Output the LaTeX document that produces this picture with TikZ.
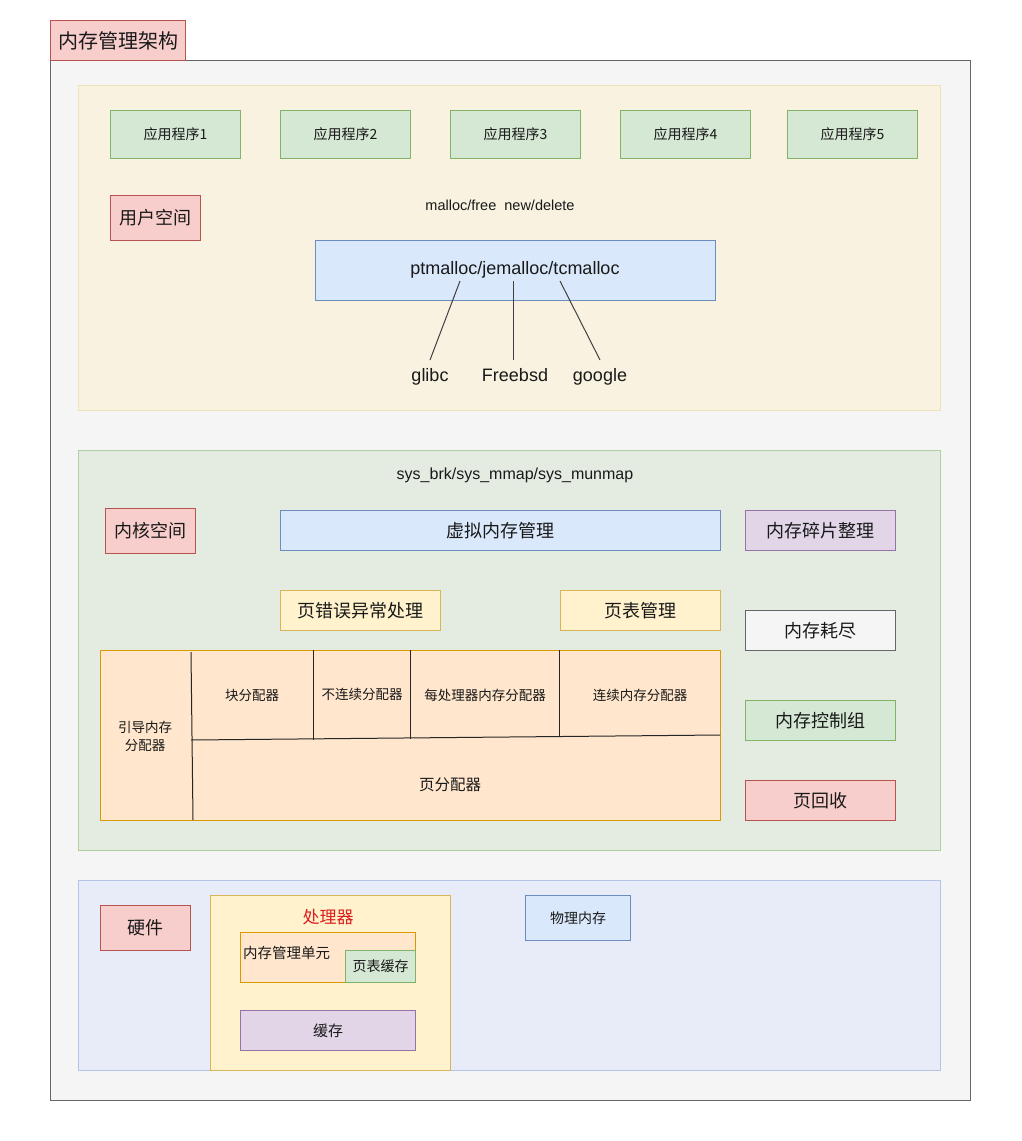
\documentclass[tikz,border=0pt]{standalone}
\usepackage{fontspec}
\setmainfont{Liberation Sans}
\newfontfamily\cjk{Noto Sans CJK SC}
\definecolor{pinkF}{RGB}{248,206,204}\definecolor{pinkD}{RGB}{184,84,80}
\definecolor{greenF}{RGB}{213,232,212}\definecolor{greenD}{RGB}{130,179,102}
\definecolor{blueF}{RGB}{218,232,252}\definecolor{blueD}{RGB}{108,142,191}
\definecolor{purpleF}{RGB}{225,213,231}\definecolor{purpleD}{RGB}{150,115,166}
\definecolor{yellowF}{RGB}{255,242,204}\definecolor{yellowD}{RGB}{214,182,86}
\definecolor{orangeF}{RGB}{255,230,204}\definecolor{orangeD}{RGB}{215,155,0}
\definecolor{grayF}{RGB}{245,245,245}\definecolor{grayD}{RGB}{102,102,102}
\definecolor{userF}{RGB}{249,242,225}\definecolor{userD}{RGB}{240,224,188}
\definecolor{kernF}{RGB}{228,236,226}\definecolor{kernD}{RGB}{176,206,160}
\definecolor{hwF}{RGB}{232,236,248}\definecolor{hwD}{RGB}{180,196,230}
\definecolor{txt}{RGB}{25,25,25}
\newcommand{\fs}[1]{\fontsize{#1}{#1}\selectfont}
\tikzset{
  box/.style={draw, rectangle, inner sep=0pt, line width=1pt, anchor=north west, text=txt, align=center},
  pinkbox/.style={box, fill=pinkF, draw=pinkD},
  greenbox/.style={box, fill=greenF, draw=greenD},
  bluebox/.style={box, fill=blueF, draw=blueD},
  purplebox/.style={box, fill=purpleF, draw=purpleD},
  yellowbox/.style={box, fill=yellowF, draw=yellowD},
  orangebox/.style={box, fill=orangeF, draw=orangeD},
  graybox/.style={box, fill=grayF, draw=grayD},
  lbl/.style={inner sep=0pt, text=txt, align=center},
  divline/.style={draw=black!85, line width=1pt},
  link/.style={draw=black!75, line width=1pt},
}
\begin{document}
\begin{tikzpicture}[x=1pt,y=-1pt]
\useasboundingbox (0,0) rectangle (1022,1141);
\fill[white] (0,0) rectangle (1022,1141);
% outer
\node[graybox, minimum width=920pt, minimum height=1040pt] (outer) at (50,60) {};
\node[pinkbox, minimum width=135pt, minimum height=40pt] (title) at (50,20) {\cjk\fs{20}内存管理架构};
% user space
\node[box, fill=userF, draw=userD, minimum width=862pt, minimum height=325pt] (user) at (78,85) {};
\node[greenbox, minimum width=130pt, minimum height=48pt] (app1) at (110,110) {\cjk\fs{14}应用程序1};
\node[greenbox, minimum width=130pt, minimum height=48pt] (app2) at (280,110) {\cjk\fs{14}应用程序2};
\node[greenbox, minimum width=130pt, minimum height=48pt] (app3) at (450,110) {\cjk\fs{14}应用程序3};
\node[greenbox, minimum width=130pt, minimum height=48pt] (app4) at (620,110) {\cjk\fs{14}应用程序4};
\node[greenbox, minimum width=130pt, minimum height=48pt] (app5) at (787,110) {\cjk\fs{14}应用程序5};
\node[pinkbox, minimum width=90pt, minimum height=45pt] (us) at (110,195) {\cjk\fs{18}用户空间};
\node[lbl] (mf) at (500,205) {\fs{14.5}malloc/free\ \ new/delete};
\node[bluebox, minimum width=400pt, minimum height=60pt] (ptm) at (315,240) {};
\node[lbl] (ptmt) at (515,270) {\fs{18}ptmalloc/jemalloc/tcmalloc};
\node[lbl, anchor=base] (glibc) at (430,381) {\fs{18}glibc};
\node[lbl, anchor=base] (fbsd) at (515,381) {\fs{18}Freebsd};
\node[lbl, anchor=base] (goog) at (600,381) {\fs{18}google};
\coordinate (la) at (460,281);
\coordinate (lb) at (513,281);
\coordinate (lc) at (560,281);
\coordinate (ea) at (430,360);
\coordinate (eb) at (513,360);
\coordinate (ec) at (600,360);
\draw[link] (la) -- (ea);
\draw[link] (lb) -- (eb);
\draw[link] (lc) -- (ec);
% kernel space
\node[box, fill=kernF, draw=kernD, minimum width=862pt, minimum height=400pt] (kern) at (78,450) {};
\node[lbl] (sys) at (515,475) {\fs{16}sys\_brk/sys\_mmap/sys\_munmap};
\node[pinkbox, minimum width=90pt, minimum height=45pt] (ks) at (105,508) {\cjk\fs{18}内核空间};
\node[bluebox, minimum width=440pt, minimum height=40pt] (vmm) at (280,510) {\cjk\fs{18}虚拟内存管理};
\node[purplebox, minimum width=150pt, minimum height=40pt] (frag) at (745,510) {\cjk\fs{18}内存碎片整理};
\node[yellowbox, minimum width=160pt, minimum height=40pt] (pf) at (280,590) {\cjk\fs{18}页错误异常处理};
\node[yellowbox, minimum width=160pt, minimum height=40pt] (pt) at (560,590) {\cjk\fs{18}页表管理};
\node[graybox, minimum width=150pt, minimum height=40pt] (oom) at (745,610) {\cjk\fs{18}内存耗尽};
\node[greenbox, minimum width=150pt, minimum height=40pt] (cg) at (745,700) {\cjk\fs{18}内存控制组};
\node[pinkbox, minimum width=150pt, minimum height=40pt] (rec) at (745,780) {\cjk\fs{18}页回收};
\node[orangebox, minimum width=620pt, minimum height=170pt] (alloc) at (100,650) {};
\coordinate (v0t) at (191,652);
\coordinate (v0b) at (193,820);
\coordinate (hl) at (191,740);
\coordinate (hr) at (720,735);
\coordinate (v1t) at (313,650);
\coordinate (v1b) at (313,740);
\coordinate (v2t) at (410,650);
\coordinate (v2b) at (410,739);
\coordinate (v3t) at (559,650);
\coordinate (v3b) at (559,737);
\draw[divline] (v0t) -- (v0b);
\draw[divline] (hl) -- (hr);
\draw[divline] (v1t) -- (v1b);
\draw[divline] (v2t) -- (v2b);
\draw[divline] (v3t) -- (v3b);
\node[lbl] (boot) at (145,736) {\cjk\fs{13.5}引导内存\\[5pt]\cjk\fs{13.5}分配器};
\node[lbl] (slab) at (252,695) {\cjk\fs{13.5}块分配器};
\node[lbl] (vmal) at (362,694) {\cjk\fs{13.5}不连续分配器};
\node[lbl] (pcpu) at (485,695) {\cjk\fs{13.5}每处理器内存分配器};
\node[lbl] (cma) at (640,695) {\cjk\fs{13.5}连续内存分配器};
\node[lbl] (buddy) at (450,785) {\cjk\fs{15.5}页分配器};
% hardware
\node[box, fill=hwF, draw=hwD, minimum width=862pt, minimum height=190pt] (hw) at (78,880) {};
\node[pinkbox, minimum width=90pt, minimum height=45pt] (hwl) at (100,905) {\cjk\fs{18}硬件};
\node[yellowbox, minimum width=240pt, minimum height=175pt] (cpu) at (210,895) {};
\node[lbl, text={rgb,255:red,220;green,30;blue,30}] (cput) at (328,917) {\cjk\fs{17}处理器};
\node[orangebox, minimum width=175pt, minimum height=50pt] (mmu) at (240,932) {};
\node[lbl, anchor=west] (mmut) at (243,953) {\cjk\fs{14.5}内存管理单元};
\node[greenbox, minimum width=70pt, minimum height=32pt] (tlb) at (345,950) {\cjk\fs{14}页表缓存};
\node[purplebox, minimum width=175pt, minimum height=40pt] (cache) at (240,1010) {\cjk\fs{15}缓存};
\node[bluebox, minimum width=105pt, minimum height=45pt] (mem) at (525,895) {\cjk\fs{14}物理内存};
\end{tikzpicture}
\end{document}
